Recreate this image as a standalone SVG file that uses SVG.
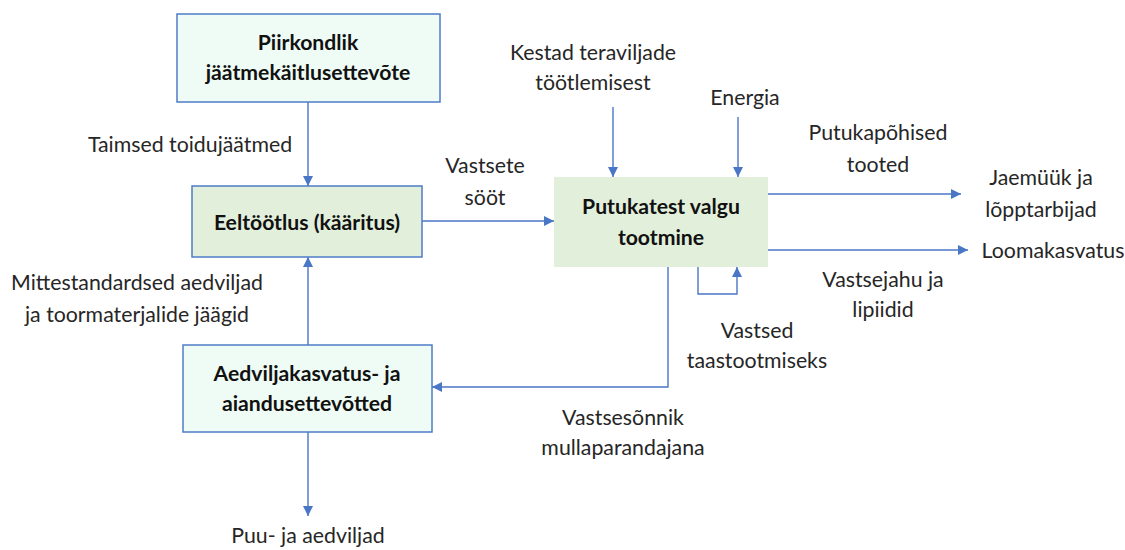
<svg xmlns="http://www.w3.org/2000/svg" width="1125" height="550" viewBox="0 0 1125 550">
  <style>
    .box-mint { fill: #effcf5; stroke: #4f7cc8; stroke-width: 1.5; }
    .box-green { fill: #e2efda; stroke: #4f7cc8; stroke-width: 1.5; }
    .box-plain { fill: #e2efda; stroke: none; }
    .title { font-family: Lato, "Liberation Sans", sans-serif; font-weight: bold; font-size: 21.2px; fill: #111; text-anchor: middle; }
    .label { font-family: Lato, "Liberation Sans", sans-serif; font-size: 21.3px; fill: #262626; text-anchor: middle; }
    .conn { fill: none; stroke: #4a76c6; stroke-width: 1.4; }
  </style>
  <defs>
    <marker id="arrow" viewBox="0 0 10 10" refX="10" refY="5" markerWidth="10" markerHeight="10" markerUnits="userSpaceOnUse" orient="auto">
      <path d="M0,0 L10,5 L0,10 Z" fill="#4a76c6"/>
    </marker>
  </defs>
  <rect width="1125" height="550" fill="#ffffff"/>

  <!-- connectors -->
  <g id="connectors">
    <line class="conn" x1="308" y1="102" x2="308" y2="186" marker-end="url(#arrow)"/>
    <line class="conn" x1="422" y1="221" x2="554" y2="221" marker-end="url(#arrow)"/>
    <line class="conn" x1="613" y1="107" x2="613" y2="177" marker-end="url(#arrow)"/>
    <line class="conn" x1="738" y1="117" x2="738" y2="177" marker-end="url(#arrow)"/>
    <line class="conn" x1="765" y1="194" x2="961" y2="194" marker-end="url(#arrow)"/>
    <line class="conn" x1="768" y1="250" x2="968" y2="250" marker-end="url(#arrow)"/>
    <polyline class="conn" points="698,267 698,294 737,294 737,267" marker-end="url(#arrow)"/>
    <polyline class="conn" points="668,267 668,387 432,387" marker-end="url(#arrow)"/>
    <line class="conn" x1="308" y1="345" x2="308" y2="257" marker-end="url(#arrow)"/>
    <line class="conn" x1="308" y1="432" x2="308" y2="516" marker-end="url(#arrow)"/>
  </g>

  <!-- nodes -->
  <g id="node-waste">
    <rect class="box-mint" x="177" y="14" width="263" height="88"/>
    <text class="title" x="308" y="50">Piirkondlik</text>
    <text class="title" x="308" y="80">jäätmekäitlusettevõte</text>
  </g>
  <g id="node-pretreat">
    <rect class="box-green" x="192" y="186" width="230" height="71"/>
    <text class="title" x="307" y="230">Eeltöötlus (kääritus)</text>
  </g>
  <g id="node-garden">
    <rect class="box-mint" x="183" y="345" width="249" height="87"/>
    <text class="title" x="307" y="381">Aedviljakasvatus- ja</text>
    <text class="title" x="307" y="411">aiandusettevõtted</text>
  </g>
  <g id="node-insect">
    <rect class="box-plain" x="554" y="177" width="214" height="90"/>
    <text class="title" x="661" y="214">Putukatest valgu</text>
    <text class="title" x="661" y="245">tootmine</text>
  </g>

  <!-- flow labels -->
  <g id="labels">
    <text class="label" x="190" y="152">Taimsed toidujäätmed</text>
    <text class="label" x="485" y="173">Vastsete</text>
    <text class="label" x="485" y="205">sööt</text>
    <text class="label" x="593" y="60">Kestad teraviljade</text>
    <text class="label" x="593" y="90">töötlemisest</text>
    <text class="label" x="745" y="105">Energia</text>
    <text class="label" x="878" y="140">Putukapõhised</text>
    <text class="label" x="878" y="172">tooted</text>
    <text class="label" x="1041" y="185">Jaemüük ja</text>
    <text class="label" x="1041" y="217">lõpptarbijad</text>
    <text class="label" x="1053" y="258">Loomakasvatus</text>
    <text class="label" x="883" y="287">Vastsejahu ja</text>
    <text class="label" x="883" y="317">lipiidid</text>
    <text class="label" x="757" y="338">Vastsed</text>
    <text class="label" x="757" y="368">taastootmiseks</text>
    <text class="label" x="623" y="425">Vastsesõnnik</text>
    <text class="label" x="623" y="455">mullaparandajana</text>
    <text class="label" x="137" y="290">Mittestandardsed aedviljad</text>
    <text class="label" x="137" y="322">ja toormaterjalide jäägid</text>
    <text class="label" x="308" y="543">Puu- ja aedviljad</text>
  </g>
</svg>
